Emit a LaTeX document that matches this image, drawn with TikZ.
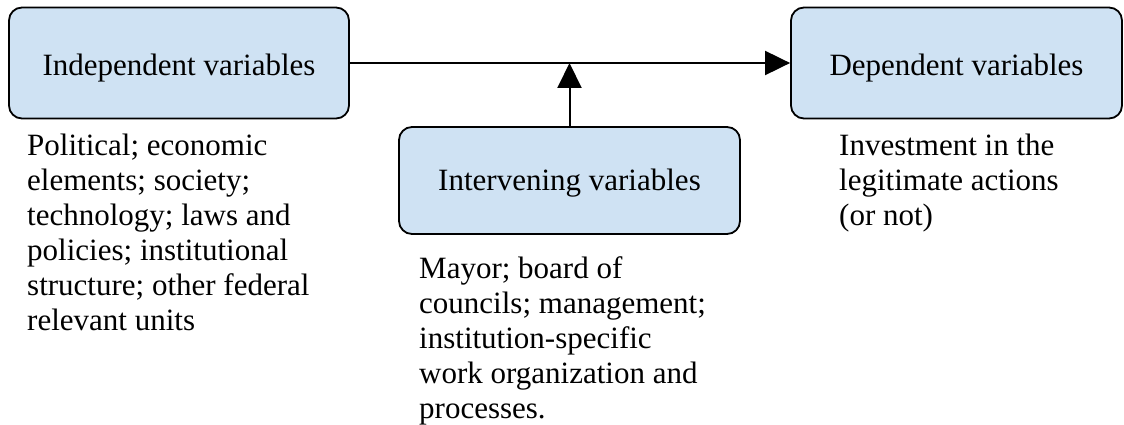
\documentclass[tikz,border=0pt]{standalone}
\usepackage{fontspec}
\setmainfont{Liberation Serif}
\usetikzlibrary{arrows.meta}
\definecolor{boxfill}{RGB}{207,226,243}
\begin{document}
\begin{tikzpicture}[x=1pt,y=-1pt,
  every node/.style={font=\fontsize{31}{35}\selectfont},
  varbox/.style={draw=black, line width=1.8pt, fill=boxfill, rounded corners=13pt,
    inner sep=0pt, text height=25pt, text depth=0pt},
  note/.style={align=left, anchor=north west, inner sep=0pt},
  link/.style={line width=2pt, -{Triangle[length=25pt,width=24pt]}}
]
\useasboundingbox (0,0) rectangle (1124,425);

% the three variable groups
\node[varbox, minimum width=340pt, minimum height=111pt] (ind) at (179,63) {Independent variables};
\node[varbox, minimum width=331pt, minimum height=111pt] (dep) at (956.5,63) {Dependent variables};
\node[varbox, minimum width=341pt, minimum height=107pt, text height=19pt] (int) at (569.5,180.5) {Intervening variables};

% causal path and moderating influence
\draw[link] (ind.east) -- (dep.west);
\coordinate (meet) at (int.north |- ind.east);
\draw[link] (int.north) -- (meet);

% descriptions under each group
\node[note] (indtxt) at (27,134) {Political; economic\\elements; society;\\technology; laws and\\policies; institutional\\structure; other federal\\relevant units};
\node[note] (inttxt) at (419,256) {Mayor; board of\\councils; management;\\institution-specific\\work organization and\\processes.};
\node[note] (deptxt) at (839,134) {Investment in the\\legitimate actions\\(or not)};
\end{tikzpicture}
\end{document}
